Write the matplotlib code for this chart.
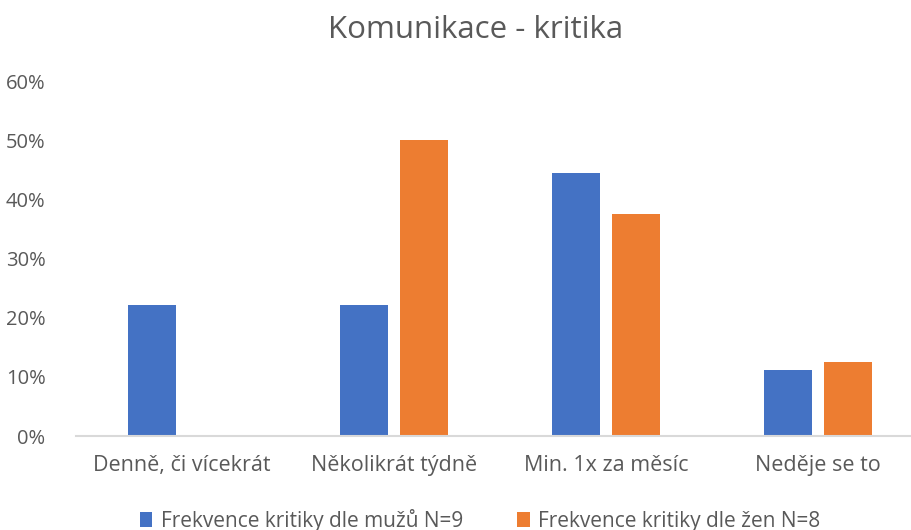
import matplotlib
matplotlib.use("Agg")
import matplotlib.pyplot as plt
from matplotlib.ticker import PercentFormatter
import numpy as np

plt.rcParams['font.family'] = ['Open Sans', 'DejaVu Sans']

title = "Komunikace - kritika"
categories = ["Denně, či vícekrát", "Několikrát týdně", "Min. 1x za měsíc", "Neděje se to"]
series_names = ["Frekvence kritiky dle mužů N=9", "Frekvence kritiky dle žen N=8"]
men = [0.222, 0.222, 0.444, 0.111]
women = [0.0, 0.50, 0.375, 0.125]
yticks = [0, 0.1, 0.2, 0.3, 0.4, 0.5, 0.6]

colors = ["#4472C4", "#ED7D31"]
text_color = "#595959"

W, H = 912, 530
fig = plt.figure(figsize=(W / 100, H / 100), dpi=100)
left, right, top, bottom = 76, 912, 81, 436
ax = fig.add_axes([left / W, (H - bottom) / H, (right - left) / W, (bottom - top) / H])

x = np.arange(len(categories))
bw = 0.226
off = 0.1415
ax.bar(x - off, men, bw, color=colors[0], label=series_names[0])
ax.bar(x + off, women, bw, color=colors[1], label=series_names[1])

ax.set_xlim(-0.5, (912 - 182) / 212)
ax.set_ylim(0, 0.6)
ax.set_yticks(yticks)
ax.yaxis.set_major_formatter(PercentFormatter(1.0, decimals=0))
ax.set_xticks(x)
ax.set_xticklabels(categories)
for lbl, dx in zip(ax.get_xticklabels(), [8, 0, 2, 3]):
    pass

for s in ["top", "right", "left"]:
    ax.spines[s].set_visible(False)
ax.spines["bottom"].set_color("#D9D9D9")
ax.spines["bottom"].set_linewidth(1.5)
ax.tick_params(axis="x", length=0, colors=text_color, labelsize=15.5, pad=14)
ax.tick_params(axis="y", length=0, colors=text_color, labelsize=14.5, pad=22)

fig.text(476 / W, 1 - 30 / H, title, ha="center", va="center", fontsize=22.5, color=text_color)

handles, labels = ax.get_legend_handles_labels()
fig.legend(handles, labels, loc="center", bbox_to_anchor=(480 / W, 1 - 520 / H), ncol=2,
           frameon=False, fontsize=15, labelcolor=text_color, handlelength=0.6, handleheight=0.7,
           handletextpad=0.4, columnspacing=2.6)

fig.savefig("out.png", dpi=100)
